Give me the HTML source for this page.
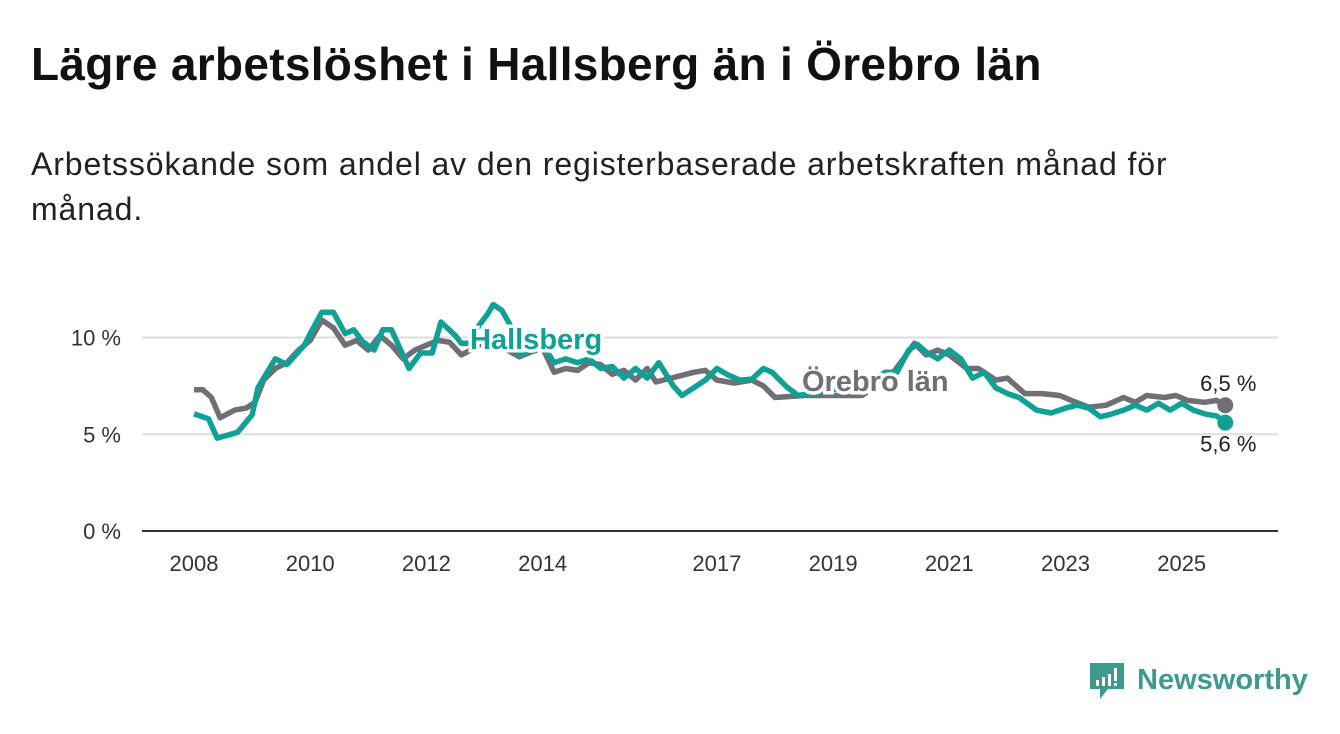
<!DOCTYPE html>
<html><head><meta charset="utf-8">
<style>
body{margin:0;background:#fff;width:1340px;height:734px;overflow:hidden;font-family:"Liberation Sans","DejaVu Sans",sans-serif;}
#title{position:absolute;left:31px;top:37px;font-size:46px;font-weight:bold;color:#111;margin:0;letter-spacing:0.3px;white-space:nowrap;}
#sub{position:absolute;left:31px;top:142px;width:1250px;font-size:32px;line-height:45px;color:#222;letter-spacing:0.9px;}
svg{position:absolute;left:0;top:0;}
</style></head><body>
<h1 id="title">Lägre arbetslöshet i Hallsberg än i Örebro län</h1>
<div id="sub">Arbetssökande som andel av den registerbaserade arbetskraften månad för<br>månad.</div>
<svg id="chart" width="1340" height="734"></svg>
<svg width="1340" height="734">
<path d="M1090 663h34v26h-16l-8 10v-10h-10z" fill="#3d9a8f"/>
<rect x="1096" y="680" width="3" height="6" fill="#fff"/><rect x="1102" y="677" width="3" height="9" fill="#fff"/><rect x="1108" y="674" width="3" height="12" fill="#fff"/><rect x="1114" y="668" width="3" height="13" fill="#fff"/><rect x="1114" y="683" width="3" height="3" fill="#fff"/>
<text x="1137" y="689" font-size="29" font-weight="bold" fill="#3d9a8f">Newsworthy</text>
</svg>
<script>
const yearTicks=[2008,2010,2012,2014,2017,2019,2021,2023,2025];
const yTicks=[0,5,10];
const hYears=[2008.0,2008.25,2008.4,2008.75,2009.0,2009.1,2009.4,2009.6,2009.9,2010.0,2010.2,2010.4,2010.6,2010.75,2010.9,2011.1,2011.25,2011.4,2011.7,2011.9,2012.1,2012.25,2012.5,2012.6,2012.75,2012.9,2013.05,2013.15,2013.3,2013.45,2013.6,2013.8,2014.0,2014.2,2014.4,2014.6,2014.8,2015.0,2015.2,2015.4,2015.6,2015.8,2016.0,2016.25,2016.4,2016.6,2016.8,2017.0,2017.2,2017.4,2017.6,2017.8,2017.95,2018.2,2018.4,2018.8,2019.0,2019.5,2019.9,2020.1,2020.3,2020.45,2020.6,2020.8,2021.0,2021.2,2021.4,2021.6,2021.8,2022.0,2022.2,2022.5,2022.75,2023.0,2023.2,2023.4,2023.6,2023.8,2024.0,2024.2,2024.4,2024.6,2024.8,2025.0,2025.2,2025.4,2025.6,2025.75];
const hallsberg=[6.05,5.8,4.8,5.1,6.0,7.4,8.9,8.6,9.6,10.2,11.3,11.3,10.2,10.4,9.8,9.35,10.4,10.4,8.4,9.2,9.2,10.8,10.1,9.7,9.7,10.6,11.2,11.7,11.4,10.6,9.1,9.35,9.6,8.7,8.9,8.7,8.9,8.4,8.5,7.9,8.4,7.9,8.7,7.5,7.0,7.4,7.8,8.4,8.05,7.8,7.85,8.4,8.2,7.45,7.0,7.2,7.3,7.5,8.2,8.2,9.35,9.65,9.25,8.9,9.35,8.9,7.9,8.2,7.4,7.1,6.9,6.25,6.1,6.35,6.5,6.35,5.9,6.05,6.25,6.5,6.25,6.6,6.25,6.6,6.25,6.05,5.95,5.6];
const oYears=[2008.0,2008.15,2008.3,2008.45,2008.7,2008.9,2009.05,2009.2,2009.4,2009.6,2009.8,2010.0,2010.2,2010.4,2010.6,2010.8,2011.0,2011.2,2011.4,2011.6,2011.8,2012.0,2012.2,2012.4,2012.6,2012.7,2012.9,2013.1,2013.6,2013.8,2014.0,2014.2,2014.4,2014.6,2014.8,2015.0,2015.2,2015.4,2015.6,2015.8,2015.95,2016.6,2016.8,2017.0,2017.3,2017.6,2017.8,2018.0,2018.5,2019.0,2019.5,2020.0,2020.2,2020.4,2020.6,2020.8,2021.0,2021.3,2021.5,2021.8,2022.0,2022.3,2022.6,2022.9,2023.1,2023.4,2023.7,2024.0,2024.2,2024.4,2024.7,2024.9,2025.1,2025.4,2025.6,2025.75];
const orebro=[7.3,7.3,6.9,5.85,6.25,6.35,6.65,7.8,8.4,8.7,9.35,9.85,10.9,10.5,9.6,9.85,9.35,10.1,9.6,8.9,9.35,9.6,9.85,9.75,9.1,9.25,9.6,9.85,9.0,9.25,9.45,8.2,8.4,8.3,8.7,8.6,8.1,8.3,7.8,8.4,7.7,8.2,8.3,7.8,7.65,7.8,7.5,6.9,7.0,7.0,7.0,8.05,8.85,9.7,9.1,9.35,9.1,8.4,8.4,7.8,7.9,7.1,7.1,7.0,6.75,6.4,6.5,6.9,6.65,7.0,6.9,7.0,6.75,6.65,6.75,6.5];
const NS='http://www.w3.org/2000/svg';
const svg=document.getElementById('chart');
const X=y=>194+(y-2008)*58.1;
const Y=v=>531-v*19.35;
function mk(t,a){const e=document.createElementNS(NS,t);for(const k in a)e.setAttribute(k,a[k]);svg.appendChild(e);return e;}
yTicks.forEach(v=>{
  if(v>0){const g=mk('line',{x1:142,x2:1278,y1:Y(v),y2:Y(v),stroke:'#dddddd','stroke-width':2});
  
  }
  const t=mk('text',{x:121,y:Y(v)+8,'text-anchor':'end','font-size':22,fill:'#333'});t.textContent=v+' %';
  
  
});
const ax=mk('line',{x1:142,x2:1278,y1:531,y2:531,stroke:'#333','stroke-width':2});


yearTicks.forEach(y=>{
  const t=mk('text',{x:X(y),y:571,'text-anchor':'middle','font-size':22,fill:'#333'});t.textContent=y;
  
  
});
function path(xs,vs){return xs.map((x,i)=>(i?'L':'M')+X(x).toFixed(1)+' '+Y(vs[i]).toFixed(1)).join('');}
const po=mk('path',{d:path(oYears,orebro),fill:'none',stroke:'#706f75','stroke-width':5.5,'stroke-linejoin':'round'});


const ph=mk('path',{d:path(hYears,hallsberg),fill:'none',stroke:'#0fa196','stroke-width':5.5,'stroke-linejoin':'round'});


const lo=oYears.length-1,lh=hYears.length-1;
const d1=mk('circle',{cx:X(oYears[lo]),cy:Y(orebro[lo]),r:8,fill:'#706f75'});


const d2=mk('circle',{cx:X(hYears[lh]),cy:Y(hallsberg[lh]),r:8,fill:'#0fa196'});


const e1=mk('text',{x:X(oYears[lo])+3,y:Y(orebro[lo])-14,'text-anchor':'middle','font-size':22,fill:'#222'});e1.textContent=String(orebro[lo]).replace('.',',')+' %';


const e2=mk('text',{x:X(hYears[lh])+3,y:Y(hallsberg[lh])+29,'text-anchor':'middle','font-size':22,fill:'#222'});e2.textContent=String(hallsberg[lh]).replace('.',',')+' %';


const l1=mk('text',{x:470,y:349,'font-size':29,'font-weight':'bold',fill:'#0fa196',stroke:'#fff','stroke-width':7,'paint-order':'stroke'});l1.textContent='Hallsberg';


const l2=mk('text',{x:802,y:391,'font-size':29,'font-weight':'bold',fill:'#706f75',stroke:'#fff','stroke-width':7,'paint-order':'stroke'});l2.textContent='Örebro län';


</script>
</body></html>
